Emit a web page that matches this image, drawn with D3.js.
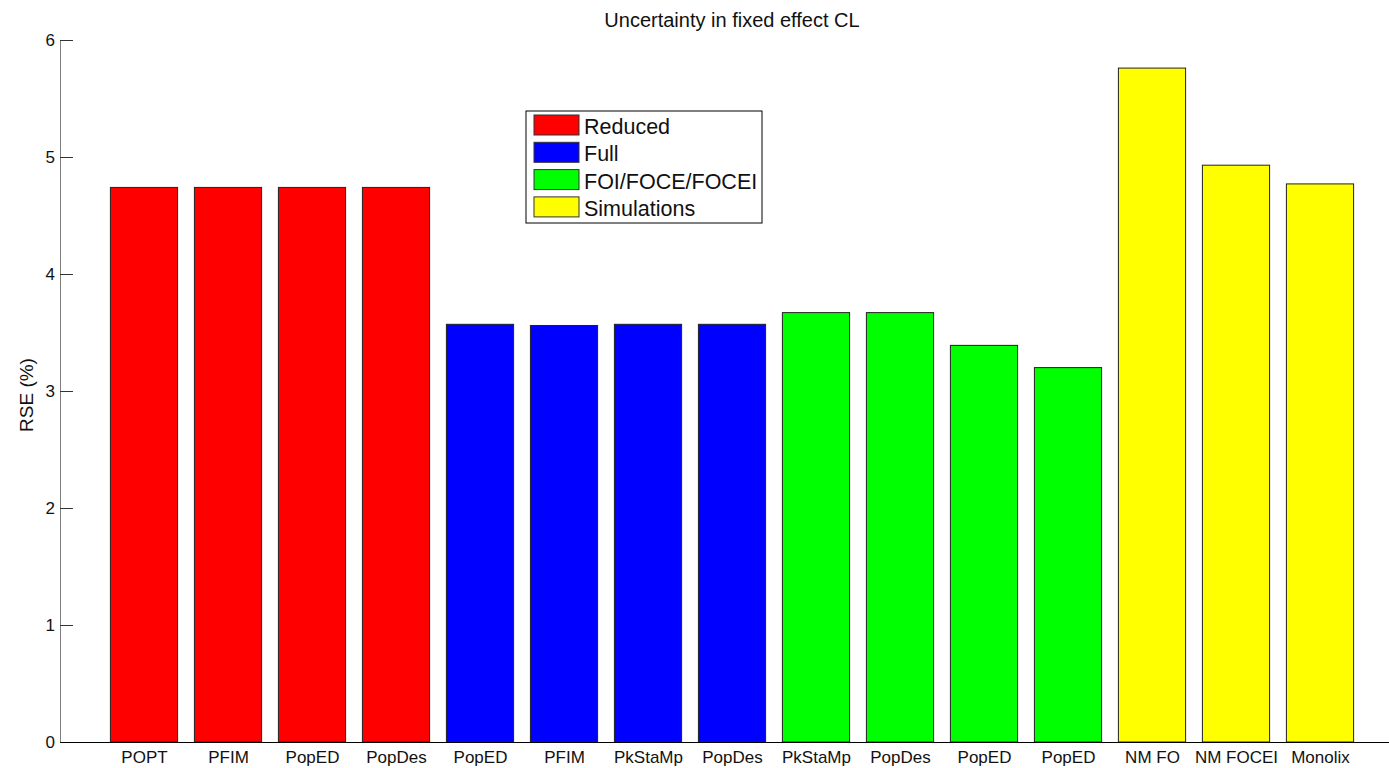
<!DOCTYPE html>
<html>
<head>
<meta charset="utf-8">
<script src="https://cdn.jsdelivr.net/npm/d3@7"></script>
<style>
  body { margin: 0; background: #fff; }
  text { font-family: "Liberation Sans", Arial, sans-serif; }
</style>
</head>
<body>
<div id="chart"></div>
<script>
const labels = ["POPT", "PFIM", "PopED", "PopDes", "PopED", "PFIM", "PkStaMp", "PopDes",
                "PkStaMp", "PopDes", "PopED", "PopED", "NM FO", "NM FOCEI", "Monolix"];
const rse = [4.74, 4.74, 4.74, 4.74, 3.57, 3.56, 3.57, 3.57,
             3.67, 3.67, 3.39, 3.20, 5.76, 4.93, 4.77];
const groups = ["Reduced", "Reduced", "Reduced", "Reduced", "Full", "Full", "Full", "Full",
                "FOI/FOCE/FOCEI", "FOI/FOCE/FOCEI", "FOI/FOCE/FOCEI", "FOI/FOCE/FOCEI",
                "Simulations", "Simulations", "Simulations"];
const groupNames = ["Reduced", "Full", "FOI/FOCE/FOCEI", "Simulations"];
const groupColors = ["#ff0000", "#0000ff", "#00ff00", "#ffff00"];
const yTicks = [0, 1, 2, 3, 4, 5, 6];

const width = 1389, height = 768;
const plotLeft = 60, plotTop = 40, plotBottom = 742;

const svg = d3.select("#chart").append("svg")
  .attr("width", width).attr("height", height);

const x = d3.scaleLinear().domain([0, 16]).range([plotLeft, plotLeft + 84 * 16]);
const y = d3.scaleLinear().domain([0, 6]).range([plotBottom, plotTop]);
const color = d3.scaleOrdinal(groupNames, groupColors);
const barW = (x(1) - x(0)) * 0.8;

// bars
svg.selectAll("rect.bar").data(rse).enter()
  .append("rect")
  .attr("class", "bar")
  .attr("x", (d, i) => x(i + 1) - barW / 2)
  .attr("y", d => y(d))
  .attr("width", barW)
  .attr("height", d => y(0) - y(d))
  .attr("fill", (d, i) => color(groups[i]))
  .attr("stroke", "#222")
  .attr("stroke-width", 1);

// y axis
const yAxis = svg.append("g")
  .attr("transform", `translate(${plotLeft},0)`)
  .call(d3.axisRight(y).tickValues(yTicks).tickSize(13).tickSizeOuter(0).tickFormat(d3.format("d")));
yAxis.attr("font-family", null).attr("font-size", null);
yAxis.select(".domain").attr("stroke", "#808080");
yAxis.selectAll(".tick line").attr("stroke", "#333");
yAxis.selectAll(".tick text")
  .attr("x", -5).attr("text-anchor", "end")
  .attr("font-size", 17).attr("fill", "#111");

// x axis
const xAxis = svg.append("g")
  .attr("transform", `translate(0,${plotBottom})`)
  .call(d3.axisBottom(x).tickValues(d3.range(1, labels.length + 1)).tickSize(0)
    .tickFormat(d => labels[d - 1]));
xAxis.attr("font-family", null).attr("font-size", null);
xAxis.select(".domain").attr("stroke", "#000");
xAxis.selectAll(".tick text")
  .attr("y", 21).attr("dy", null)
  .attr("font-size", 17).attr("fill", "#111");

// title and y label
svg.append("text")
  .attr("x", 732).attr("y", 27)
  .attr("text-anchor", "middle").attr("font-size", 20)
  .attr("fill", "#111")
  .text("Uncertainty in fixed effect CL");

svg.append("text")
  .attr("transform", `translate(33,${(plotTop + plotBottom) / 2 + 4}) rotate(-90)`)
  .attr("text-anchor", "middle").attr("font-size", 19)
  .attr("fill", "#111")
  .text("RSE (%)");

// legend
const legend = svg.append("g").attr("transform", "translate(526,111)");
legend.append("rect")
  .attr("width", 236).attr("height", 112)
  .attr("fill", "#fff").attr("stroke", "#000");
const item = legend.selectAll("g.item").data(groupNames).enter()
  .append("g").attr("class", "item")
  .attr("transform", (d, i) => `translate(8,${4 + i * 27.3})`);
item.append("rect")
  .attr("width", 45).attr("height", 20)
  .attr("fill", d => color(d)).attr("stroke", "#333");
item.append("text")
  .attr("x", 50).attr("y", 19)
  .attr("font-size", 21.5)
  .attr("fill", "#111")
  .text(d => d);
</script>
</body>
</html>
